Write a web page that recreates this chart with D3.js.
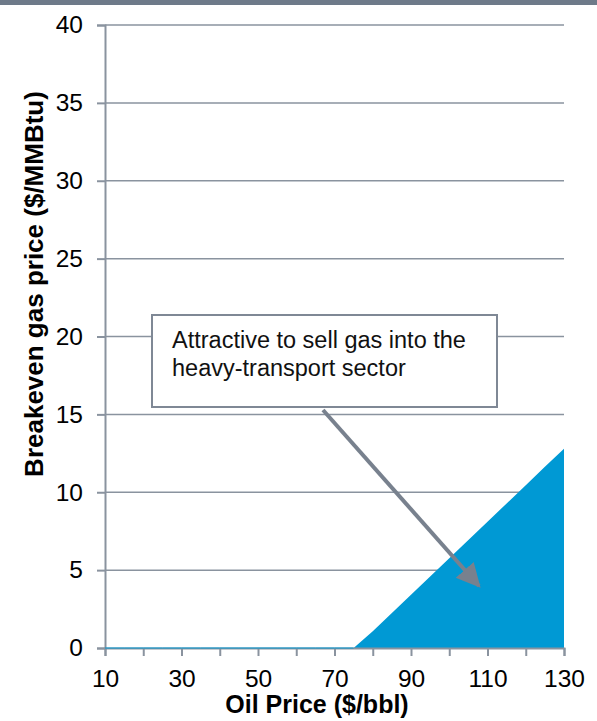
<!DOCTYPE html>
<html>
<head>
<meta charset="utf-8">
<script src="https://cdn.jsdelivr.net/npm/d3@7"></script>
<style>
  body { margin: 0; background: #fff; }
  text { font-family: "Liberation Sans", Arial, sans-serif; }
</style>
</head>
<body>
<div id="chart"></div>
<script>
var oilPrice = [10, 15, 20, 25, 30, 35, 40, 45, 50, 55, 60, 65, 70, 75, 80, 85, 90, 95, 100, 105, 110, 115, 120, 125, 130];
var breakevenGas = [0, 0, 0, 0, 0, 0, 0, 0, 0, 0, 0, 0, 0, 0, 1.08, 2.25, 3.42, 4.59, 5.77, 6.94, 8.11, 9.28, 10.45, 11.63, 12.8];
var yTicks = [0, 5, 10, 15, 20, 25, 30, 35, 40];
var xMinorTicks = [10, 20, 30, 40, 50, 60, 70, 80, 90, 100, 110, 120, 130];
var xLabels = [10, 30, 50, 70, 90, 110, 130];
var noteLines = ["Attractive to sell gas into the", "heavy-transport sector"];

var width = 597, height = 721;
var axisColor = "#8a939f";

var svg = d3.select("#chart").append("svg")
  .attr("width", width)
  .attr("height", height);

// grey band on top
svg.append("rect")
  .attr("x", 0).attr("y", 0)
  .attr("width", width).attr("height", 5)
  .attr("fill", "#6e7a89");

var x = d3.scaleLinear().domain([10, 130]).range([105, 564]);
var y = d3.scaleLinear().domain([0, 40]).range([648, 25]);

var data = oilPrice.map(function(d, i) { return { oil: d, gas: breakevenGas[i] }; });

// gridlines
svg.append("g")
  .selectAll("line")
  .data(yTicks.filter(function(d) { return d > 0; }))
  .enter().append("line")
  .attr("x1", x(10)).attr("x2", x(130))
  .attr("y1", function(d) { return y(d); })
  .attr("y2", function(d) { return y(d); })
  .attr("stroke", axisColor)
  .attr("stroke-width", 1.5);

// area
var area = d3.area()
  .x(function(d) { return x(d.oil); })
  .y0(y(0))
  .y1(function(d) { return y(d.gas); });

svg.append("path")
  .datum(data)
  .attr("d", area)
  .attr("fill", "#0099d4");

// y axis
var yAxis = svg.append("g")
  .attr("transform", "translate(" + x(10) + ",0)")
  .call(d3.axisLeft(y).tickValues(yTicks).tickSize(8).tickPadding(14));

// x axis
var xAxis = svg.append("g")
  .attr("transform", "translate(0," + y(0) + ")")
  .call(d3.axisBottom(x).tickValues(xMinorTicks).tickSize(8).tickPadding(14)
    .tickFormat(function(d) { return xLabels.indexOf(d) >= 0 ? d : ""; }));

[yAxis, xAxis].forEach(function(a) {
  a.select(".domain").attr("stroke", axisColor).attr("stroke-width", 2);
  a.selectAll(".tick line").attr("stroke", axisColor).attr("stroke-width", 2);
  a.selectAll(".tick text")
    .attr("fill", "#000")
    .style("font-size", "24.5px")
    .style("font-family", "'Liberation Sans', Arial, sans-serif");
});

// zero series line along the axis
svg.append("path")
  .datum(data.filter(function(d) { return d.gas === 0; }))
  .attr("d", d3.line().x(function(d) { return x(d.oil); }).y(function(d) { return y(d.gas); }))
  .attr("stroke", "#0099d4")
  .attr("stroke-width", 1)
  .attr("fill", "none");

// axis titles
svg.append("text")
  .attr("x", 317).attr("y", 713)
  .attr("text-anchor", "middle")
  .style("font-size", "25px")
  .style("font-weight", "bold")
  .text("Oil Price ($/bbl)");

svg.append("text")
  .attr("transform", "translate(43,284) rotate(-90)")
  .attr("text-anchor", "middle")
  .style("font-size", "26px")
  .style("font-weight", "bold")
  .text("Breakeven gas price ($/MMBtu)");

// annotation box
svg.append("rect")
  .attr("x", 152).attr("y", 315)
  .attr("width", 345).attr("height", 92)
  .attr("fill", "#fff")
  .attr("stroke", "#7f8895")
  .attr("stroke-width", 2);

svg.append("g")
  .selectAll("text")
  .data(noteLines)
  .enter().append("text")
  .attr("x", 172)
  .attr("y", function(d, i) { return 348 + i * 28; })
  .style("font-size", "23.5px")
  .attr("fill", "#111")
  .text(function(d) { return d; });

// arrow
var defs = svg.append("defs");
defs.append("marker")
  .attr("id", "arrowhead")
  .attr("viewBox", "0 0 10 10")
  .attr("refX", 9).attr("refY", 5)
  .attr("markerWidth", 6).attr("markerHeight", 6.5)
  .attr("markerUnits", "strokeWidth")
  .attr("orient", "auto")
  .append("path")
  .attr("d", "M0,0 L10,5 L0,10 Z")
  .attr("fill", "#78818e");

svg.append("line")
  .attr("x1", 323).attr("y1", 410)
  .attr("x2", 479).attr("y2", 586)
  .attr("stroke", "#78818e")
  .attr("stroke-width", 4)
  .attr("marker-end", "url(#arrowhead)");
</script>
</body>
</html>
